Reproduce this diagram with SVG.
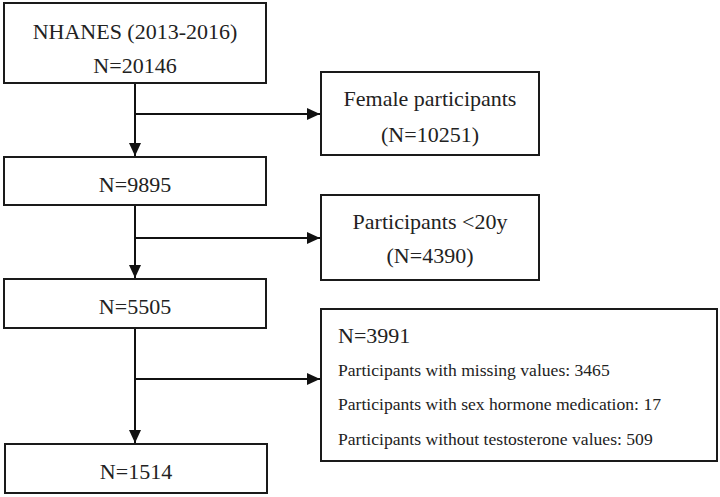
<svg xmlns="http://www.w3.org/2000/svg" width="720" height="497" viewBox="0 0 720 497">
<style>
.box{fill:#fff;stroke:#1a1a1a;stroke-width:2}
.t{font-family:"Liberation Serif","Times New Roman",serif;font-size:22px;fill:#222;text-anchor:middle}
.s{font-family:"Liberation Serif","Times New Roman",serif;font-size:17.6px;fill:#222}
.c{stroke:#111;stroke-width:2;fill:none}
</style>
<defs>
<marker id="arr" markerUnits="userSpaceOnUse" markerWidth="14" markerHeight="14" viewBox="0 0 14 14" refX="13" refY="7" orient="auto">
<path d="M0,1 L13,7 L0,13 Z" fill="#111"/>
</marker>
</defs>
<rect width="720" height="497" fill="#fff"/>
<g id="connectors">
<line class="c" x1="135" y1="83" x2="135" y2="156" marker-end="url(#arr)"/>
<line class="c" x1="135" y1="114" x2="320" y2="114" marker-end="url(#arr)"/>
<line class="c" x1="135" y1="205" x2="135" y2="278" marker-end="url(#arr)"/>
<line class="c" x1="135" y1="238" x2="320" y2="238" marker-end="url(#arr)"/>
<line class="c" x1="135" y1="328" x2="135" y2="443" marker-end="url(#arr)"/>
<line class="c" x1="135" y1="379" x2="320" y2="379" marker-end="url(#arr)"/>
</g>
<g id="n1">
<rect class="box" x="4" y="3" width="262" height="80"/>
<text class="t" x="135" y="39">NHANES (2013-2016)</text>
<text class="t" x="135" y="73">N=20146</text>
</g>
<g id="n2">
<rect class="box" x="321" y="72" width="218" height="83"/>
<text class="t" x="430" y="106">Female participants</text>
<text class="t" x="430" y="142">(N=10251)</text>
</g>
<g id="n3">
<rect class="box" x="4" y="157" width="262" height="48"/>
<text class="t" x="135" y="192">N=9895</text>
</g>
<g id="n4">
<rect class="box" x="321" y="195" width="218" height="85"/>
<text class="t" x="430" y="229">Participants &lt;20y</text>
<text class="t" x="430" y="263">(N=4390)</text>
</g>
<g id="n5">
<rect class="box" x="4" y="279" width="262" height="49"/>
<text class="t" x="135" y="314">N=5505</text>
</g>
<g id="n6">
<rect class="box" x="321" y="309" width="396" height="152"/>
<text class="t" x="338" y="343" style="text-anchor:start">N=3991</text>
<text class="s" x="338" y="376">Participants with missing values: 3465</text>
<text class="s" x="338" y="410">Participants with sex hormone medication: 17</text>
<text class="s" x="338" y="445">Participants without testosterone values: 509</text>
</g>
<g id="n7">
<rect class="box" x="5" y="444" width="262" height="49"/>
<text class="t" x="136" y="479">N=1514</text>
</g>
</svg>
